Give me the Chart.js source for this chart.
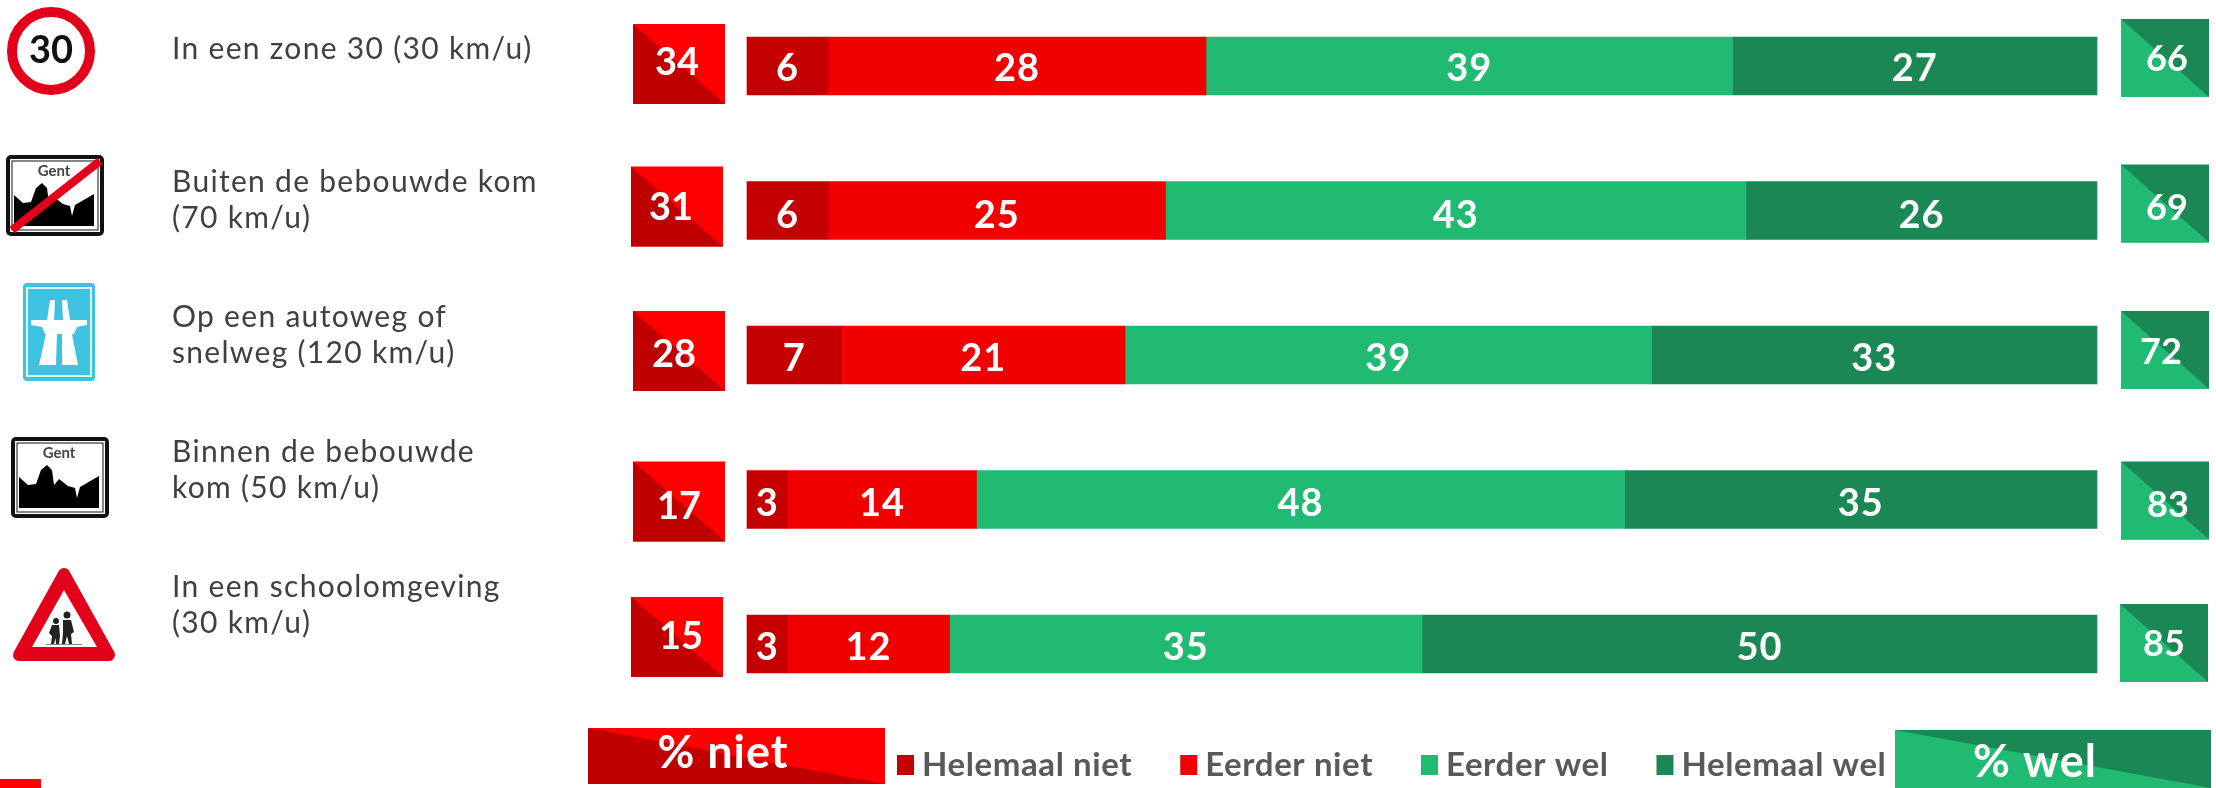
<!DOCTYPE html>
<html lang="nl">
<head>
<meta charset="utf-8">
<title>Snelheidslimieten</title>
<script src="https://cdn.jsdelivr.net/npm/chart.js@4/dist/chart.umd.min.js"></script>
<style>
  html, body { margin: 0; padding: 0; background: #fff; }
  canvas { display: block; }
</style>
</head>
<body>
<canvas id="chart" width="2216" height="788"></canvas>
<script>
// Data
const categories = [
    ['In een zone 30 (30 km/u)'],
    ['Buiten de bebouwde kom', '(70 km/u)'],
    ['Op een autoweg of', 'snelweg (120 km/u)'],
    ['Binnen de bebouwde', 'kom (50 km/u)'],
    ['In een schoolomgeving', '(30 km/u)']
];
const helemaalNiet = [6, 6, 7, 3, 3];
const eerderNiet = [28, 25, 21, 14, 12];
const eerderWel = [39, 43, 39, 48, 35];
const helemaalWel = [27, 26, 33, 35, 50];
const totaalNiet = [34, 31, 28, 17, 15];
const totaalWel = [66, 69, 72, 83, 85];

// Kleuren
const DARK_RED = '#C40000';
const RED = '#F00000';
const BRIGHT_RED = '#FF0000';
const GREEN = '#21BA72';
const DARK_GREEN = '#1A8754';
const FONT = 'Lato, "Noto Sans", sans-serif';

// Verschuivingen t.o.v. het midden van elke rij (het origineel staat niet netjes op een lijn)
const labelNudge = [-17, -10, -20, -29, -39];
const valueNudge = [3, 5, 4, 4, 4];
const nietBoxX = [633, 631, 633, 633, 631];
const nietBoxNudge = [-2, -4, -4, 2, -7];
const nietTextNudge = [[-2, -1], [-6, 1], [-5, 4], [0, 5], [4, 0]];
const welBoxX = [2121, 2121, 2121, 2121, 2120];
const welBoxNudge = [-8, -7, -5, 1, -1];
const welTextNudge = [[2, 1], [2, 5], [-4, 2], [3, 5], [0, 1]];

function splitBox(ctx, x, y, w, h, upperRight, lowerLeft) {
    ctx.fillStyle = upperRight;
    ctx.fillRect(x, y, w, h);
    ctx.fillStyle = lowerLeft;
    ctx.beginPath();
    ctx.moveTo(x, y);
    ctx.lineTo(x + w, y + h);
    ctx.lineTo(x, y + h);
    ctx.closePath();
    ctx.fill();
}

function centerText(ctx, text, x, y, font, color) {
    ctx.font = font;
    ctx.fillStyle = color;
    ctx.textAlign = 'center';
    ctx.textBaseline = 'middle';
    ctx.fillText(text, x, y);
}

function poly(ctx, points) {
    ctx.beginPath();
    points.forEach((p, i) => i ? ctx.lineTo(p[0], p[1]) : ctx.moveTo(p[0], p[1]));
    ctx.closePath();
}

// Verkeersborden
function signZone30(ctx) {
    ctx.beginPath();
    ctx.arc(51, 51, 39, 0, Math.PI * 2);
    ctx.fillStyle = '#fff';
    ctx.fill();
    ctx.lineWidth = 10;
    ctx.strokeStyle = '#E2001A';
    ctx.stroke();
    centerText(ctx, '30', 51, 51, 'bold 38px "Liberation Sans Narrow", ' + FONT, '#111');
}

function signTown(ctx, x, y, struck) {
    ctx.fillStyle = '#111';
    ctx.beginPath();
    ctx.roundRect(x, y, 98, 81, 5);
    ctx.fill();
    ctx.fillStyle = '#fff';
    ctx.fillRect(x + 4, y + 4, 90, 73);
    ctx.strokeStyle = '#111';
    ctx.lineWidth = 1;
    ctx.strokeRect(x + 6, y + 6, 86, 69);
    // silhouet van de stad
    poly(ctx, [[x + 8, y + 40], [x + 17, y + 48], [x + 25, y + 47], [x + 30, y + 33], [x + 36, y + 28],
        [x + 41, y + 33], [x + 43, y + 48], [x + 48, y + 42], [x + 57, y + 49], [x + 64, y + 51],
        [x + 66, y + 61], [x + 69, y + 50], [x + 88, y + 39], [x + 88, y + 71], [x + 8, y + 71]]);
    ctx.fillStyle = '#000';
    ctx.fill();
    centerText(ctx, 'Gent', x + 48, y + 16, 'bold 15px ' + FONT, '#444');
    if (struck) {
        ctx.strokeStyle = '#E2001A';
        ctx.lineWidth = 8;
        ctx.beginPath();
        ctx.moveTo(x + 6, y + 75);
        ctx.lineTo(x + 94, y + 6);
        ctx.stroke();
    }
}

function signMotorway(ctx) {
    ctx.fillStyle = '#3DC3E0';
    ctx.beginPath();
    ctx.roundRect(23, 283, 72, 98, 4);
    ctx.fill();
    ctx.strokeStyle = '#DFF5FA';
    ctx.lineWidth = 2;
    ctx.strokeRect(27, 288, 64, 88);
    ctx.fillStyle = '#fff';
    poly(ctx, [[50, 300], [55, 300], [54, 320], [47, 320]]);
    ctx.fill();
    poly(ctx, [[62, 300], [67, 300], [70, 320], [63, 320]]);
    ctx.fill();
    poly(ctx, [[31, 320], [87, 320], [87, 325], [77, 327], [74, 334], [45, 334], [42, 327], [31, 325]]);
    ctx.fill();
    poly(ctx, [[46, 334], [57, 334], [56, 365], [39, 365]]);
    ctx.fill();
    poly(ctx, [[62, 334], [72, 334], [78, 365], [62, 365]]);
    ctx.fill();
}

function signSchool(ctx) {
    ctx.fillStyle = '#E2001A';
    ctx.strokeStyle = '#E2001A';
    ctx.lineWidth = 12;
    ctx.lineJoin = 'round';
    poly(ctx, [[64, 574], [19, 655], [109, 655]]);
    ctx.fill();
    ctx.stroke();
    ctx.lineJoin = 'miter';
    ctx.fillStyle = '#fff';
    poly(ctx, [[64, 590], [32, 647], [97, 647]]);
    ctx.fill();
    // twee kinderen
    ctx.fillStyle = '#222';
    ctx.beginPath();
    ctx.arc(56, 621, 3, 0, Math.PI * 2);
    ctx.arc(67, 615, 3.5, 0, Math.PI * 2);
    ctx.fill();
    poly(ctx, [[52, 625], [59, 625], [60, 636], [59, 644], [56, 644], [55.5, 638], [54, 644], [51, 644], [52, 636], [49, 633]]);
    ctx.fill();
    poly(ctx, [[63, 620], [71, 620], [74, 632], [71, 634], [72, 644], [69, 644], [67, 636], [65, 644], [62, 644], [63, 632]]);
    ctx.fill();
    ctx.fillStyle = '#888';
    ctx.fillRect(46, 644, 36, 1);
}

// Alles rond de balken tekenen: labels, borden, totalen, legenda
const decorationsPlugin = {
    id: 'decorations',
    afterDatasetsDraw(chart) {
        const ctx = chart.ctx;
        const yScale = chart.scales.y;
        ctx.save();

        // waarden in de balken
        chart.data.datasets.forEach((ds, d) => {
            chart.getDatasetMeta(d).data.forEach((bar, i) => {
                const p = bar.getCenterPoint();
                ctx.letterSpacing = '1px';
                centerText(ctx, String(ds.data[i]), p.x, p.y + valueNudge[i], 'bold 38px ' + FONT, '#fff');
                ctx.letterSpacing = '0px';
            });
        });

        categories.forEach((lines, i) => {
            const center = yScale.getPixelForTick(i);

            // omschrijving links
            ctx.font = '30px ' + FONT;
            ctx.letterSpacing = '1.3px';
            ctx.fillStyle = '#404040';
            ctx.textAlign = 'left';
            ctx.textBaseline = 'middle';
            const top = center + labelNudge[i] - (lines.length - 1) * 18;
            lines.forEach((line, l) => ctx.fillText(line, 172, top + l * 36));
            ctx.letterSpacing = '0px';

            // totaal % niet
            const nietY = center + nietBoxNudge[i];
            splitBox(ctx, nietBoxX[i], nietY - 40, 92, 80, BRIGHT_RED, '#BE0000');
            centerText(ctx, String(totaalNiet[i]), nietBoxX[i] + 46 + nietTextNudge[i][0], nietY + nietTextNudge[i][1],
                'bold 38px ' + FONT, '#fff');

            // totaal % wel
            const welY = center + welBoxNudge[i];
            splitBox(ctx, welBoxX[i], welY - 39, 88, 78, DARK_GREEN, GREEN);
            centerText(ctx, String(totaalWel[i]), welBoxX[i] + 44 + welTextNudge[i][0], welY + welTextNudge[i][1],
                'bold 36px ' + FONT, '#fff');
        });

        signZone30(ctx);
        signTown(ctx, 6, 155, true);
        signMotorway(ctx);
        signTown(ctx, 11, 437, false);
        signSchool(ctx);

        // legenda onderaan
        let x = 897;
        ctx.font = 'bold 33px ' + FONT;
        ctx.letterSpacing = '0.6px';
        chart.data.datasets.forEach(ds => {
            ctx.fillStyle = ds.backgroundColor;
            ctx.fillRect(x, 755, 17, 20);
            ctx.fillStyle = '#595959';
            ctx.textAlign = 'left';
            ctx.textBaseline = 'middle';
            ctx.fillText(ds.label, x + 25, 765);
            x += 25 + ctx.measureText(ds.label).width + 48;
        });
        ctx.letterSpacing = '0px';

        splitBox(ctx, 588, 728, 297, 56, BRIGHT_RED, '#BE0000');
        ctx.letterSpacing = '1px';
        centerText(ctx, '% niet', 723, 753, 'bold 45px ' + FONT, '#fff');
        splitBox(ctx, 1895, 730, 316, 58, DARK_GREEN, GREEN);
        centerText(ctx, '% wel', 2035, 762, 'bold 45px ' + FONT, '#fff');
        ctx.letterSpacing = '0px';

        // rood blokje linksonder
        ctx.fillStyle = BRIGHT_RED;
        ctx.fillRect(0, 779, 41, 9);

        ctx.restore();
    }
};

function makeDataset(label, values, color) {
    return {
        label: label,
        data: values,
        backgroundColor: color,
        borderWidth: 0,
        barThickness: 58,
        clip: false
    };
}

new Chart(document.getElementById('chart').getContext('2d'), {
    type: 'bar',
    data: {
        labels: categories.map(c => c.join(' ')),
        datasets: [
            makeDataset('Helemaal niet', helemaalNiet, DARK_RED),
            makeDataset('Eerder niet', eerderNiet, RED),
            makeDataset('Eerder wel', eerderWel, GREEN),
            makeDataset('Helemaal wel', helemaalWel, DARK_GREEN)
        ]
    },
    options: {
        indexAxis: 'y',
        responsive: false,
        animation: false,
        layout: { padding: { left: 747, right: 119, top: 66, bottom: 144 } },
        plugins: {
            legend: { display: false },
            tooltip: { enabled: false }
        },
        scales: {
            x: { stacked: true, min: 0, max: 100, display: false },
            y: { stacked: true, offset: false, display: false }
        }
    },
    plugins: [decorationsPlugin]
});
</script>
</body>
</html>
